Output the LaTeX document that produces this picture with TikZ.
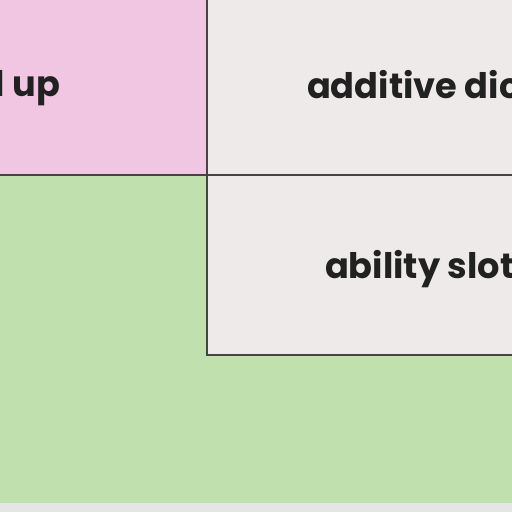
\documentclass[tikz,border=0pt]{standalone}
\usepackage{fontspec}
\setmainfont{Poppins}
\usetikzlibrary{positioning}

\definecolor{pinkcell}{HTML}{F0C6E3}
\definecolor{greycell}{HTML}{EEEAE9}
\definecolor{greencell}{HTML}{C0E0AE}
\definecolor{stripgrey}{HTML}{E5E5E5}
\definecolor{edgegrey}{HTML}{444444}

\begin{document}
\begin{tikzpicture}[x=0.01cm, y=-0.01cm,
    every node/.style={inner sep=0pt, outer sep=0pt},
    cell/.style={draw=edgegrey, line width=0.65pt, anchor=north west},
    label/.style={font=\fontsize{10}{12}\selectfont\bfseries, text=black!87}]

    \useasboundingbox (0,0) rectangle (512,512);
    \clip (0,0) rectangle (512,512);

    % background bands
    \fill[greencell] (0,175) rectangle (512,503);
    \fill[stripgrey] (0,503) rectangle (512,512);

    % pink cell
    \node[cell, fill=pinkcell, minimum width=2.47cm, minimum height=1.95cm] (levelcell) at (-40,-20) {};
    \node[label, anchor=base east] (leveltext) at (60,97) {l up};

    % additive dice cell
    \node[cell, fill=greycell, minimum width=3.6cm, minimum height=1.95cm] (dicecell) at (207,-20) {};
    \node[label, anchor=base west] (dicetext) at (307,98) {additive dic};

    % ability slot cell
    \node[cell, fill=greycell, minimum width=3.6cm, minimum height=1.8cm] (slotcell) at (207,175) {};
    \node[label, anchor=base west] (slottext) at (325,278) {ability slot};

\end{tikzpicture}
\end{document}
